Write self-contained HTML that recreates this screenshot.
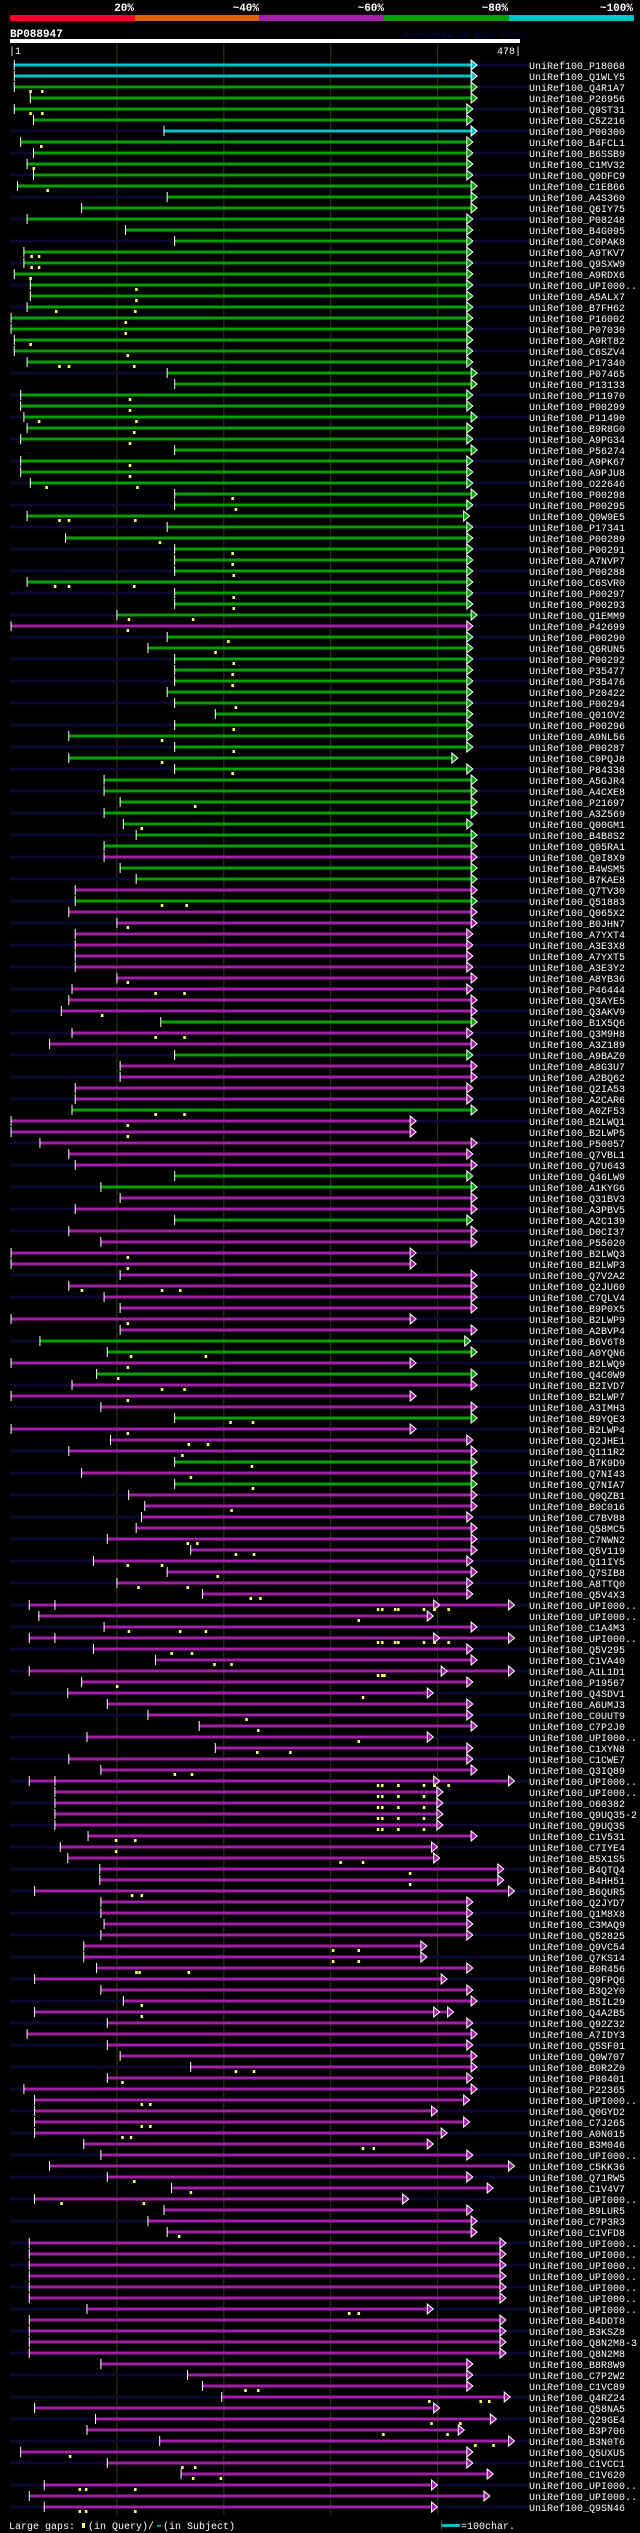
<!DOCTYPE html>
<html><head><meta charset="utf-8"><style>
html,body{margin:0;padding:0;background:#000;}
svg{display:block;}
text{font-family:"Liberation Mono","DejaVu Sans Mono",monospace;}
</style></head>
<body>
<svg id="chart" width="640" height="2533" viewBox="0 0 640 2533" xmlns="http://www.w3.org/2000/svg">
<rect width="640" height="2533" fill="#000"/>
<g>
<rect x="10" y="15" width="125" height="6" fill="#f4002c"/>
<rect x="135" y="15" width="124" height="6" fill="#e06000"/>
<rect x="259" y="15" width="125" height="6" fill="#a21fa8"/>
<rect x="384" y="15" width="125" height="6" fill="#00a000"/>
<rect x="509" y="15" width="125" height="6" fill="#00c0c8"/>
<g fill="#fff" font-size="11" font-weight="bold" text-anchor="end">
<text x="134" y="11">20%</text>
<text x="259" y="11">~40%</text>
<text x="384" y="11">~60%</text>
<text x="508" y="11">~80%</text>
<text x="633" y="11">~100%</text>
</g></g>
<text x="10" y="37" fill="#fff" font-size="11" font-weight="bold">BP088947</text>
<text x="404" y="38" fill="#000060" font-size="9">AlignView.pm Beta rel.7</text>
<rect x="10" y="39" width="510" height="4" fill="#fff"/>
<text x="9" y="54" fill="#fff" font-size="10">|1</text>
<text x="521" y="54" fill="#fff" font-size="10" text-anchor="end">478|</text>
<g id="grid"></g>
<g id="rows"></g>
<g>
<text x="9" y="2529" fill="#fff" font-size="10">Large gaps:</text>
<rect x="82" y="2523" width="3" height="5" fill="#ffff66"/>
<text x="88" y="2529" fill="#fff" font-size="10">(in Query)/</text>
<rect x="157" y="2525" width="4" height="1.5" fill="#00c0c8"/>
<text x="163" y="2529" fill="#fff" font-size="10">(in Subject)</text>
<rect x="441" y="2520" width="1" height="10" fill="#555500"/>
<rect x="442" y="2524" width="18" height="3" fill="#00c0c8"/>
<text x="461" y="2529" fill="#fff" font-size="10">=100char.</text>
</g>
</svg>
<script>
const queryLength = 478;
const gridTicks = [101, 201, 301, 401];
const labels = ["P18068","Q1WLY5","Q4R1A7","P26956","Q9ST31","C5Z216","P00300","B4FCL1","B6SSB9","C1MV32","Q0DFC9","C1EB66","A4S360","Q6IY75","P08248","B4G095","C0PAK8","A9TKV7","Q9SXW9","A9RDX6","UPI000..","A5ALX7","B7FH62","P16002","P07030",
"A9RT82","C6SZV4","P17340","P07465","P13133","P11970","P00299","P11490","B9R8G0","A9PG34","P56274","A9PK67","A9PJU8","O22646","P00298","P00295","Q0W9E5","P17341","P00289","P00291","A7NVP7","P00288","C6SVR0","P00297",
"P00293","Q1EMM9","P42699","P00290","Q6RUN5","P00292","P35477","P35476","P20422","P00294","Q01OV2","P00296","A9NL56","P00287","C0PQJ8","P84338","A5GJR4","A4CXE8","P21697","A3Z569","Q00GM1","B4B8S2","Q05RA1","Q0I8X9",
"B4WSM5","B7KAE8","Q7TV30","Q51883","Q065X2","B0JHN7","A7YXT4","A3E3X8","A7YXT5","A3E3Y2","A8YB36","P46444","Q3AYE5","Q3AKV9","B1X5Q6","Q3M9H8","A3Z189","A9BAZ0","A8G3U7","A2BQ62","Q2IA53","A2CAR6","A0ZF53","B2LWQ1",
"B2LWP5","P50057","Q7VBL1","Q7U643","Q46LW9","A1KYG6","Q31BV3","A3PBV5","A2C139","D0CI37","P55020","B2LWQ3","B2LWP3","Q7V2A2","Q2JU60","C7QLV4","B9P0X5","B2LWP9","A2BVP4","B6V6T8","A0YQN6","B2LWQ9","Q4C0W9","B2IVD7",
"B2LWP7","A3IMH3","B9YQE3","B2LWP4","Q2JHE1","Q111R2","B7K9D9","Q7NI43","Q7NIA7","Q0QZB1","B0C016","C7BV88","Q58MC5","C7NWN2","Q5V119","Q11IY5","Q7SIB8","A8TTQ0","Q5V4X3","UPI000..","UPI000..","C1A4M3","UPI000..","Q5V295",
"C1VA40","A1L1D1","P19567","Q4SDV1","A6UMJ3","C0UUT9","C7P2J0","UPI000..","C1XYN8","C1CWE7","Q3IQ89","UPI000..","UPI000..","O60382","Q9UQ35-2","Q9UQ35","C1V531","C7IYE4","B5X1S5","B4QTQ4","B4HH51","B6QUR5","Q2JYD7","Q1M8X8",
"C3MAQ9","Q52825","Q9VC54","Q7KS14","B0R456","Q9FPQ6","B3Q2Y0","B5IL29","Q4A2B5","Q92Z32","A7IDY3","Q5SF01","Q0W707","B0R2Z0","P80401","P22365","UPI000..","Q0GYD2","C7J265","A0N015","B3M046","UPI000..","C5KK36","Q71RW5",
"C1V4V7","UPI000..","B9LUR5","C7P3R3","C1VFD8","UPI000..","UPI000..","UPI000..","UPI000..","UPI000..","UPI000..","UPI000..","B4DDT8","B3KSZ8","Q8N2M8-3","Q8N2M8","B8R8W9","C7P2W2","C1VC89","Q4RZ24","Q58NA5","Q29GE4","B3P706","B3N0T6",
"Q5UXU5","C1VCC1","C1V620","UPI000..","UPI000..","Q9SN46"];
const starts = [5,5,5,20,5,23,145,11,23,17,23,8,148,68,17,109,155,14,14,5,20,20,17,2,2,
5,5,17,148,155,11,11,14,17,11,155,11,11,20,155,155,17,148,53,155,155,155,17,155,
155,101,2,148,130,155,155,155,148,155,193,155,56,155,56,155,89,89,104,89,107,119,89,89,
104,119,62,62,56,101,62,62,62,62,101,59,56,49,142,59,38,155,104,104,62,62,59,2,
2,29,56,62,155,86,104,62,155,56,86,2,2,104,56,89,104,2,104,29,92,2,82,59,
2,86,155,2,95,56,155,68,155,112,127,124,119,92,170,79,148,101,181,19,28,89,19,79,
137,19,68,55,92,130,178,73,193,56,86,19,43,43,43,43,74,48,55,85,85,24,86,86,
89,86,70,70,82,24,86,107,24,92,17,92,104,170,92,14,24,24,24,24,70,86,38,92,
152,24,145,130,148,19,19,19,19,19,19,73,19,19,19,19,86,167,181,199,24,81,73,141,
11,92,161,33,19,33];
const ends = [436,436,436,436,432,432,436,432,432,432,432,436,436,436,432,432,432,432,432,432,432,432,432,432,432,
432,432,432,436,436,432,432,436,432,432,436,432,432,432,436,432,429,432,432,432,432,432,432,432,
432,436,432,432,432,432,432,432,432,432,432,432,432,432,418,432,436,436,436,436,432,436,436,436,
436,436,436,436,436,436,432,432,432,432,436,432,436,436,436,432,436,432,436,436,432,432,436,379,
379,436,432,436,432,436,436,436,432,436,436,379,379,436,436,436,436,379,436,430,436,379,436,436,
379,436,436,379,432,436,436,436,436,436,436,432,436,436,436,432,436,432,432,471,395,436,471,432,
436,471,432,395,432,432,436,395,432,432,436,471,404,404,404,404,436,399,401,461,461,471,432,432,
432,432,389,389,432,408,432,436,414,432,436,432,436,436,432,436,429,399,429,408,395,432,471,432,
451,372,432,436,436,463,463,463,463,463,463,395,463,463,463,463,432,432,432,467,401,454,424,471,
432,432,451,399,448,399];
const colorRuns = [["c",2],["g",4],["c",1],["g",44],["m",1],["g",20],["m",1],["g",2],["m",1],["g",1],["m",10],["g",1],["m",2],["g",1],["m",4],["g",1],["m",5],["g",2],["m",2],["g",1],["m",10],["g",2],["m",1],["g",1],["m",3],["g",1],["m",3],["g",1],["m",1],["g",1],["m",93]];
const queryGaps = {2:[20,31],4:[20,31],7:[30],9:[23],11:[36],17:[21,28],18:[21,28],19:[20],20:[119],21:[119],22:[44,118],23:[109],24:[109],
25:[20],26:[111],27:[47,56,117],30:[113],31:[113],32:[28,119],33:[117],34:[113],36:[113],37:[113],38:[35,120],39:[209],40:[212],41:[47,56,118],43:[141],44:[209],45:[209],46:[210],47:[43,56,117],48:[210],
49:[210],50:[112,172],51:[111],52:[205],53:[193],54:[210],55:[209],56:[209],58:[212],60:[210],61:[143],62:[210],63:[143],64:[209],67:[174],69:[124],
76:[143,166],78:[111],83:[111],84:[137,164],86:[87],88:[137,164],95:[137,164],96:[111],97:[111],108:[111],109:[111],111:[68,143,160],114:[111],117:[114,184],118:[111],119:[102],120:[143,164],
121:[111],123:[207,228],124:[111],125:[168,186],126:[162],127:[227],128:[170],129:[228],131:[208],134:[167,176],135:[212,229],136:[111,143],137:[195],138:[121,167],139:[226,235],
140:[345,349,361,364,388,398,411],141:[327],142:[112,160,184],143:[345,349,361,364,388,398,411],144:[152,171],
145:[192,208],146:[345,349,351],147:[101],148:[331],150:[222],151:[233],152:[327],153:[232,263],155:[155,171],156:[345,349,364,388,398,411],157:[345,349,364,388],158:[345,349,364,388],159:[345,349,364,388],160:[345,349,364,388],
161:[100,118],162:[100],163:[310,331],164:[375],165:[375],166:[115,124],171:[303,327],172:[303,327],173:[119,122,168],176:[124],177:[124],182:[212,229],183:[106],185:[124,132],187:[124,132],188:[106,114],189:[331,341],192:[117],
193:[170],194:[49,126],197:[159],204:[318,327],211:[221,233],212:[393,441,449],214:[395,422],215:[350,410],216:[436,453],217:[57],218:[162,174],219:[172,198],220:[66,72,118],222:[66,72,118]};
const innerTicks = {140:43,143:43,156:43};
const innerArrows = {140:401,143:401,156:401,146:408,177:401};

const NS = "http://www.w3.org/2000/svg";
const palette = {c:"#00c0c8", g:"#00a000", m:"#a21fa8"};
function xScale(p){ return 10 + (p - 1) * (510 / (queryLength - 1)); }
function yRow(i){ return 65 + i * 11; }
function mk(tag, attrs, parent){ const e=document.createElementNS(NS,tag); for(const k in attrs) e.setAttribute(k,attrs[k]); parent.appendChild(e); return e; }
const colors = [];
colorRuns.forEach(r=>{ for(let k=0;k<r[1];k++) colors.push(r[0]); });

const grid = document.getElementById("grid");
gridTicks.forEach(t=>{
  const l = mk("rect",{x:xScale(t)-0.5,y:43,width:1,height:2472,fill:"#3a3a00"},grid);
  
  
});

const rows = document.getElementById("rows");
function arrow(g, x, y, col){
  const a = mk("polygon",{points:`${x-4},${y-5} ${x+2},${y} ${x-4},${y+5}`,fill:col,stroke:"#fff","stroke-width":"1"},g);
  
  
}
labels.forEach((lab,i)=>{
  const y = yRow(i);
  const col = palette[colors[i]] || "#a21fa8";
  const g = mk("g",{},rows);
  
  
  if(i % 2 === 0){
    const s = mk("rect",{x:10,y:y-1.5,width:519,height:3,fill:"#0a0a32"},g);
    
    
  }
  const x0 = xScale(starts[i]), x1 = xScale(ends[i]);
  const b = mk("rect",{x:x0,y:y-1.5,width:Math.max(0,x1-x0-3),height:3,fill:col},g);
  
  
  const t = mk("rect",{x:x0-0.5,y:y-5,width:1,height:10,fill:"#fff"},g);
  
  
  if(innerTicks[i]!==undefined){
    const t2 = mk("rect",{x:xScale(innerTicks[i])-0.5,y:y-5,width:1,height:10,fill:"#fff"},g);
    
    
  }
  if(innerArrows[i]!==undefined) arrow(g, xScale(innerArrows[i]), y, col);
  arrow(g, x1, y, col);
  (queryGaps[i]||[]).forEach(p=>{
    const m = mk("rect",{x:xScale(p)-1,y:y+3,width:2.5,height:3,fill:"#ffff66"},g);
    
    
  });
  const tx = mk("text",{x:529,y:y+4,fill:"#fff","font-size":"10"},g);
  tx.textContent = "UniRef100_" + lab;
  
  
});
</script>
</body></html>
